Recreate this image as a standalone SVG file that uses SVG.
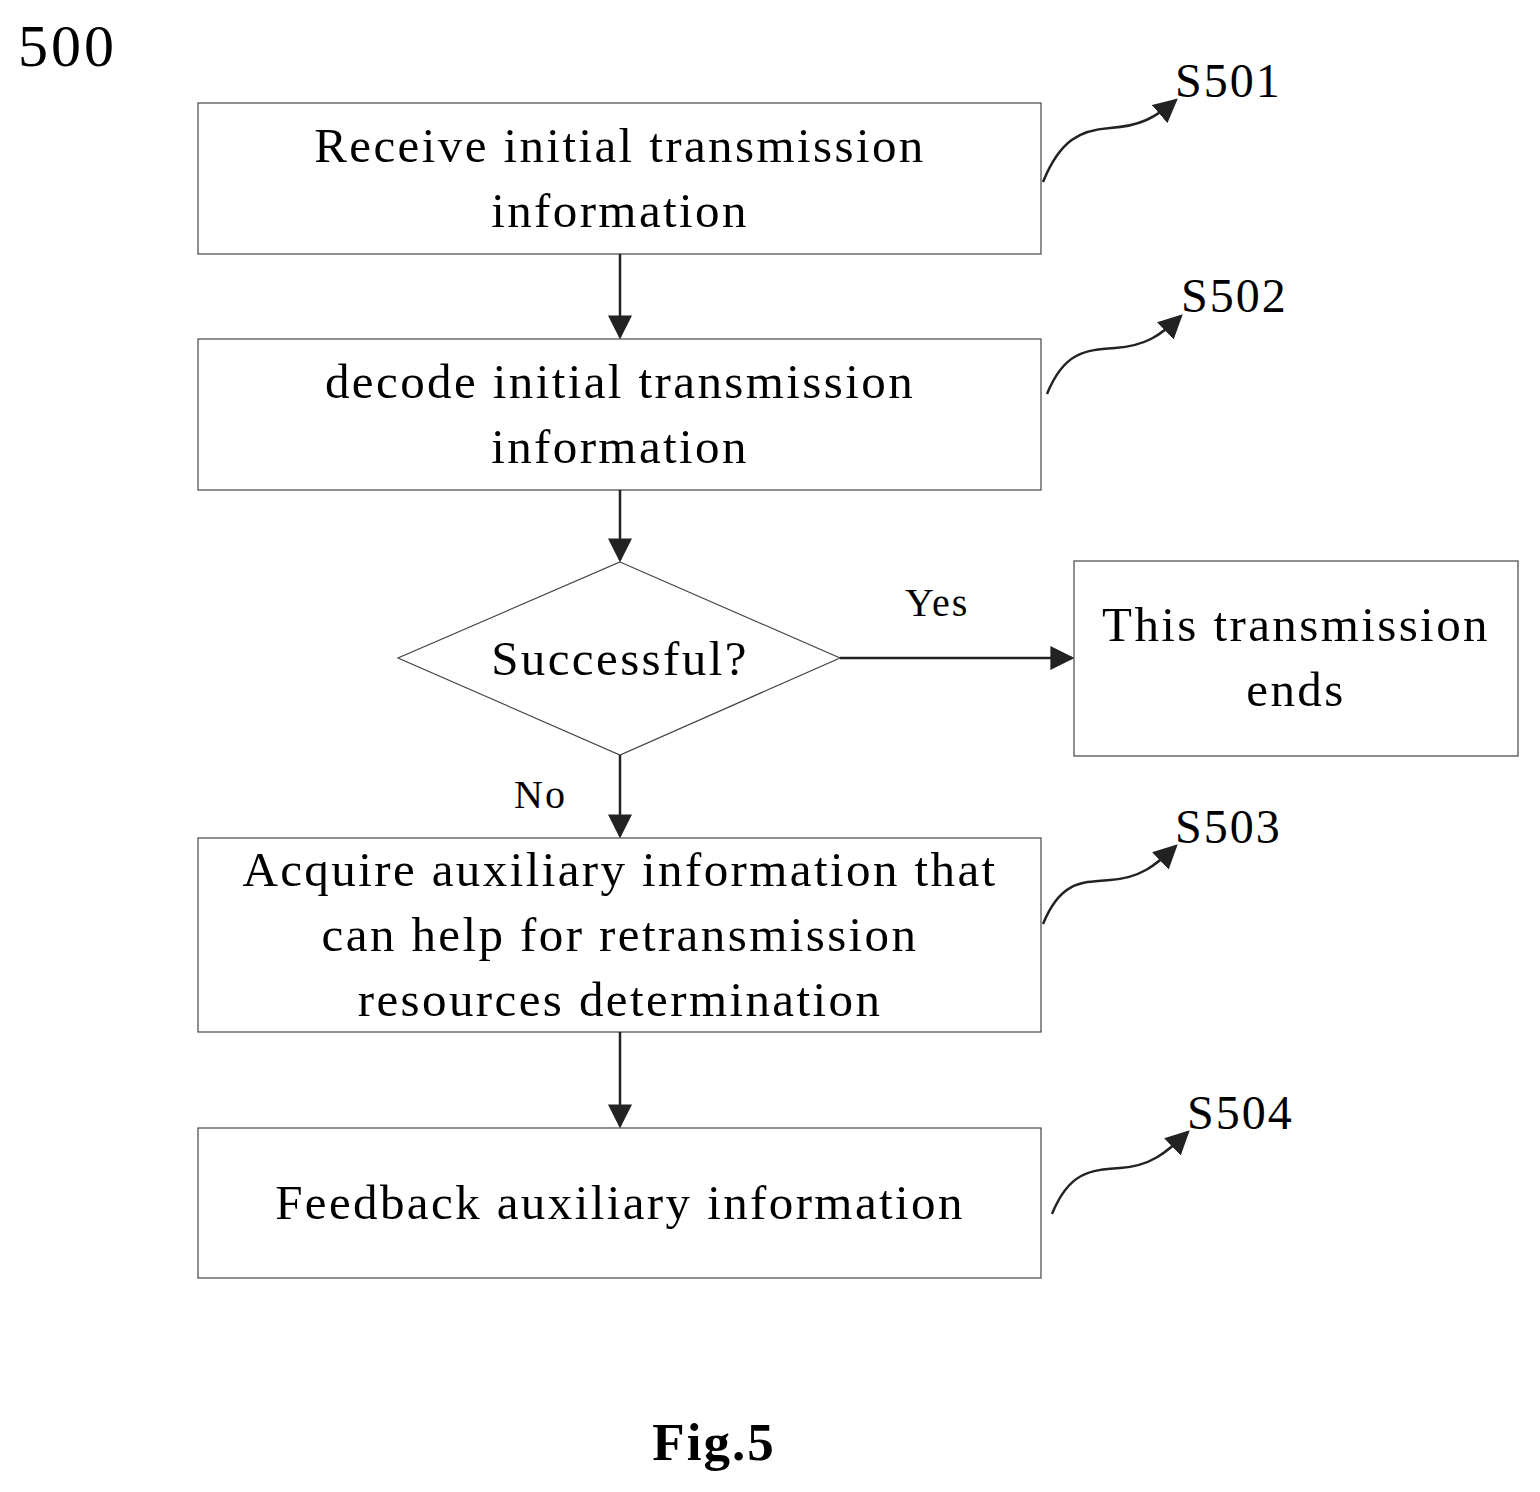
<svg xmlns="http://www.w3.org/2000/svg" width="1540" height="1492" viewBox="0 0 1540 1492">
<style>
text{font-family:"Liberation Serif",serif;fill:#000}
.t{font-size:49px;text-anchor:middle;letter-spacing:2.4px}
.b{fill:#fff;stroke:#444;stroke-width:1.2}
.c{fill:none;stroke:#222;stroke-width:2.5}
.s{fill:none;stroke:#222;stroke-width:2.5}
.l{font-size:48px;letter-spacing:2px}
</style>
<defs>
<marker id="h" viewBox="0 0 10 10" refX="9" refY="5" markerWidth="24" markerHeight="24" markerUnits="userSpaceOnUse" orient="auto"><path d="M0,0L10,5L0,10z" fill="#222"/></marker>
</defs>
<rect width="1540" height="1492" fill="#fff"/>
<text x="18" y="66" style="font-size:60px;letter-spacing:3px">500</text>
<g id="n1"><rect class="b" x="198" y="103" width="843" height="151"/><text class="t" x="620" y="162">Receive initial transmission</text><text class="t" x="620" y="227">information</text></g>
<g id="n2"><rect class="b" x="198" y="339" width="843" height="151"/><text class="t" x="620" y="398">decode initial transmission</text><text class="t" x="620" y="463">information</text></g>
<g id="n3"><path class="b" d="M620,562L840,658L620,755L398,658z"/><text class="t" x="620" y="675">Successful?</text></g>
<g id="n4"><rect class="b" x="1074" y="561" width="444" height="195"/><text class="t" x="1296" y="641">This transmission</text><text class="t" x="1296" y="706">ends</text></g>
<g id="n5"><rect class="b" x="198" y="838" width="843" height="194"/><text class="t" x="620" y="886">Acquire auxiliary information that</text><text class="t" x="620" y="951">can help for retransmission</text><text class="t" x="620" y="1016">resources determination</text></g>
<g id="n6"><rect class="b" x="198" y="1128" width="843" height="150"/><text class="t" x="620" y="1219">Feedback auxiliary information</text></g>
<g id="edges">
<line class="c" x1="620" y1="254" x2="620" y2="337" marker-end="url(#h)"/>
<line class="c" x1="620" y1="490" x2="620" y2="560" marker-end="url(#h)"/>
<line class="c" x1="840" y1="658" x2="1072" y2="658" marker-end="url(#h)"/>
<line class="c" x1="620" y1="755" x2="620" y2="836" marker-end="url(#h)"/>
<line class="c" x1="620" y1="1032" x2="620" y2="1126" marker-end="url(#h)"/>
<text x="905" y="616" style="font-size:40px;letter-spacing:2px">Yes</text>
<text x="514" y="808" style="font-size:40px;letter-spacing:2px">No</text>
</g>
<g id="labels">
<path class="s" d="M1043,182C1060,140 1080,130 1110,128C1140,126 1155,118 1176,100" marker-end="url(#h)"/>
<text class="l" x="1175" y="97">S501</text>
<path class="s" d="M1047,394C1064,352 1085,350 1115,348C1145,346 1160,336 1181,316" marker-end="url(#h)"/>
<text class="l" x="1181" y="312">S502</text>
<path class="s" d="M1043,924C1060,882 1080,882 1110,880C1140,878 1155,866 1176,846" marker-end="url(#h)"/>
<text class="l" x="1175" y="843">S503</text>
<path class="s" d="M1052,1214C1069,1172 1090,1170 1120,1168C1150,1166 1165,1154 1188,1132" marker-end="url(#h)"/>
<text class="l" x="1187" y="1129">S504</text>
</g>
<text x="714" y="1460" style="font-size:53px;font-weight:bold;text-anchor:middle;letter-spacing:2px">Fig.5</text>
</svg>
